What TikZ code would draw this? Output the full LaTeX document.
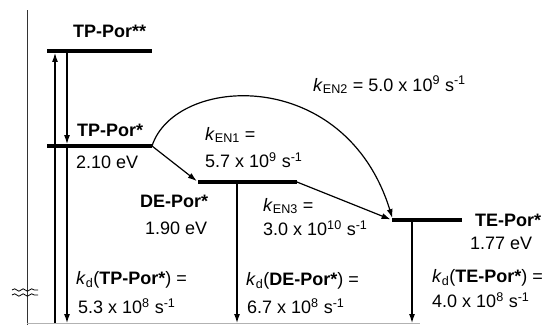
\documentclass[tikz,border=0pt]{standalone}
\usepackage{fontspec}
\setmainfont{Liberation Sans}
\usetikzlibrary{arrows.meta,decorations.pathmorphing}

\begin{document}
\begin{tikzpicture}[x=1pt, y=-1pt,
    level/.style={line width=3.8pt},
    trans/.style={line width=1.2pt, -{Latex[length=9pt,width=6pt]}},
    lbl/.style={anchor=west, inner sep=0pt, font=\fontsize{18}{21}\selectfont},
    state/.style={lbl, font=\fontsize{18}{21}\selectfont\bfseries}]
  \useasboundingbox (0,0) rectangle (554,325);
  % energy axis and base line
  \draw[line width=1pt, black!80] (27,10) -- (27,325);
  \draw[line width=0.8pt, black!30] (27,323) -- (420,323);
  \coordinate (base) at (0,323);
  \draw[line width=0.8pt, decorate, decoration={snake, amplitude=1.2pt, segment length=8.5pt}]
    (12,290) -- (38,290);
  \draw[line width=0.8pt, decorate, decoration={snake, amplitude=1.2pt, segment length=8.5pt}]
    (12,295) -- (38,295);

  % levels
  \coordinate (tpss-w) at (47,51);  \coordinate (tpss-e) at (152,51);
  \coordinate (tps-w) at (47,146);  \coordinate (tps-e) at (152,146);
  \coordinate (de-w) at (198,182);  \coordinate (de-e) at (297,182);
  \coordinate (te-w) at (392,220);  \coordinate (te-e) at (462,220);
  \draw[level] (tpss-w) -- (tpss-e);
  \draw[level] (tps-w) -- (tps-e);
  \draw[level] (de-w) -- (de-e);
  \draw[level] (te-w) -- (te-e);

  % transitions
  \coordinate (up) at (55,51);
  \coordinate (dn) at (67,51);
  \coordinate (dn2) at (67,146);
  \coordinate (de-d) at (237,182);
  \coordinate (te-d) at (412,220);
  \coordinate (te-in) at (393,220);
  \draw[trans, shorten >=1.9pt] (up |- base) -- (up);
  \draw[trans, shorten <=1.9pt, shorten >=1.9pt] (dn) -- (dn2);
  \draw[trans, shorten <=1.9pt] (dn2) -- (dn2 |- base);
  \draw[trans, shorten <=1.9pt] (de-d) -- (de-d |- base);
  \draw[trans, shorten <=1.9pt] (te-d) -- (te-d |- base);
  \draw[trans, shorten >=1.5pt] (tps-e) -- (de-w);
  \draw[trans, shorten >=1.5pt] (de-e) -- (te-w);
  \draw[trans, shorten >=2pt] (tps-e) .. controls (175,75) and (345,65) .. (te-in);

  % labels
  \node[state] (tpss-l) at (73,31) {TP-Por**};
  \node[state] (tps-l) at (77,130) {TP-Por*};
  \node[lbl] (tps-e-l) at (76,162) {2.10 eV};
  \node[state] (de-l) at (140,201) {DE-Por*};
  \node[lbl] (de-e-l) at (145,228) {1.90 eV};
  \node[state] (te-l) at (475,220) {TE-Por*};
  \node[lbl] (te-e-l) at (470,243) {1.77 eV};

  \node[lbl] (ken2) at (313,85) {\textit{k}\textsubscript{EN2} = 5.0 x 10\textsuperscript{9} s\textsuperscript{-1}};
  \node[lbl] (ken1) at (205,135) {\textit{k}\textsubscript{EN1} =};
  \node[lbl] (ken1-v) at (205,160) {5.7 x 10\textsuperscript{9} s\textsuperscript{-1}};
  \node[lbl] (ken3) at (263,206) {\textit{k}\textsubscript{EN3} =};
  \node[lbl] (ken3-v) at (263,228) {3.0 x 10\textsuperscript{10} s\textsuperscript{-1}};

  \node[lbl] (kd-tp) at (76,280) {\textit{k}\textsubscript{d}(\textbf{TP-Por*}) =};
  \node[lbl] (kd-tp-v) at (78,306) {5.3 x 10\textsuperscript{8} s\textsuperscript{-1}};
  \node[lbl] (kd-de) at (246,281) {\textit{k}\textsubscript{d}(\textbf{DE-Por*}) =};
  \node[lbl] (kd-de-v) at (247,306) {6.7 x 10\textsuperscript{8} s\textsuperscript{-1}};
  \node[lbl] (kd-te) at (432,278) {\textit{k}\textsubscript{d}(\textbf{TE-Por*}) =};
  \node[lbl] (kd-te-v) at (432,300) {4.0 x 10\textsuperscript{8} s\textsuperscript{-1}};
\end{tikzpicture}
\end{document}
